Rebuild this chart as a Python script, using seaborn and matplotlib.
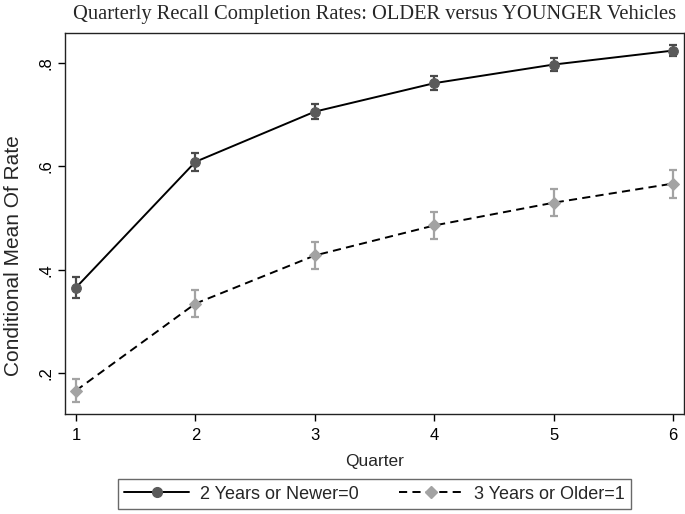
import numpy as np
import pandas as pd
import seaborn as sns
import matplotlib.pyplot as plt
from matplotlib.lines import Line2D

# data
quarters = [1, 2, 3, 4, 5, 6]
newer_mean = [0.366, 0.609, 0.706, 0.761, 0.797, 0.824]
newer_err = [0.021, 0.017, 0.015, 0.0135, 0.012, 0.011]
older_mean = [0.167, 0.335, 0.428, 0.486, 0.530, 0.567]
older_err = [0.023, 0.026, 0.026, 0.026, 0.026, 0.027]
y_ticks = [0.2, 0.4, 0.6, 0.8]
y_tick_labels = [".2", ".4", ".6", ".8"]
labels = ["2 Years or Newer=0", "3 Years or Older=1"]

df = pd.DataFrame({
    "Quarter": quarters * 2,
    "Rate": newer_mean + older_mean,
    "Err": newer_err + older_err,
    "Group": [labels[0]] * 6 + [labels[1]] * 6,
})

sns.set_style("ticks")
plt.rcParams["font.family"] = ["Liberation Sans", "DejaVu Sans"]

fig = plt.figure(figsize=(6.85, 5.14), dpi=100)
ax = fig.add_axes([0.0949, 0.1946, 0.9036, 0.7412])

styles = {
    labels[0]: dict(marker="o", ms=7, mfc="#5a5a5a", mec="#5a5a5a", ls="-",
                    ecolor="#4a4a4a"),
    labels[1]: dict(marker="D", ms=6.5, mfc="#a3a3a3", mec="#a3a3a3",
                    ls=(0, (4.2, 2.7)), ecolor="#a3a3a3"),
}

handles = []
for name in labels:
    sub = df[df["Group"] == name]
    st = styles[name]
    ax.errorbar(sub["Quarter"], sub["Rate"], yerr=sub["Err"], fmt="none",
                ecolor=st["ecolor"], elinewidth=1.6, capsize=3, capthick=1.6, zorder=2)
    sns.lineplot(data=sub, x="Quarter", y="Rate", ax=ax, color="black",
                 linewidth=1.4, linestyle=st["ls"], marker=st["marker"],
                 markersize=st["ms"], markerfacecolor=st["mfc"],
                 markeredgecolor=st["mec"], legend=False, zorder=3)
    handles.append(Line2D([], [], color="black", lw=1.4, ls=st["ls"],
                          marker=st["marker"], ms=st["ms"], mfc=st["mfc"],
                          mec=st["mec"]))

ax.set_xlim(0.908, 6.092)
ax.set_ylim(0.1217, 0.858)
ax.set_xticks(quarters)
ax.set_yticks(y_ticks)
ax.set_yticklabels(y_tick_labels, rotation=90, va="center")
ax.tick_params(axis="both", labelsize=12, length=5, width=1, colors="black")
ax.tick_params(axis="x", pad=5)
ax.set_xlabel("Quarter", fontsize=12.5)
ax.set_ylabel("Conditional Mean Of Rate", fontsize=15)
ax.xaxis.set_label_coords(0.5, -0.105)
ax.yaxis.set_label_coords(-0.068, 0.415)
for sp in ax.spines.values():
    sp.set_visible(True)
    sp.set_linewidth(1)
    sp.set_color("#222222")

fig.text(0.547, 1 - 14 / 514, "Quarterly Recall Completion Rates: OLDER versus YOUNGER Vehicles",
         fontsize=14.8, family="Liberation Serif", ha="center", va="center")

leg = fig.legend(handles, labels, loc="lower center", ncol=2,
                 bbox_to_anchor=(0.547, 0.01), fontsize=13, frameon=True,
                 fancybox=False, edgecolor="#444444", handlelength=3.6,
                 handletextpad=0.6, columnspacing=2.2, borderpad=0.35,
                 borderaxespad=0.0)
leg.get_frame().set_linewidth(1)

fig.savefig("out.png", dpi=100)
